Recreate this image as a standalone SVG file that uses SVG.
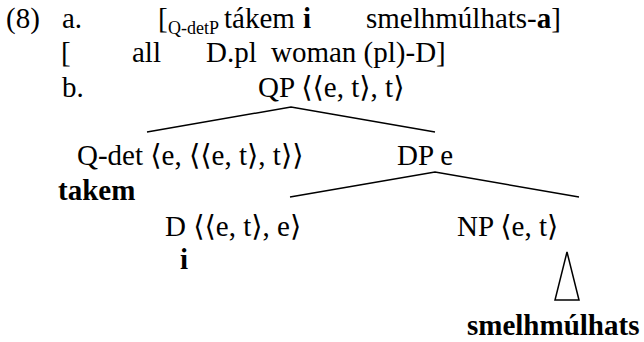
<svg xmlns="http://www.w3.org/2000/svg" width="644" height="342" viewBox="0 0 644 342">
<style>
text{font-family:"Liberation Serif","Times New Roman","DejaVu Serif",serif;font-size:29px;fill:#000}
.b{font-weight:bold}
.sub{font-size:18px}
.edge{stroke:#000;stroke-width:1.5;fill:none}
</style>
<rect width="644" height="342" fill="#fff"/>
<g id="example-a">
<text x="6" y="28">(8)</text>
<text x="62" y="28">a.</text>
<text x="158" y="28">[</text>
<text class="sub" x="168" y="34">Q-detP</text>
<text x="224" y="28">tákem</text>
<text class="b" x="303" y="28">i</text>
<text x="366" y="28">smelhmúlhats-<tspan class="b">a</tspan>]</text>
<text x="61" y="62">[</text>
<text x="132" y="62">all</text>
<text x="206" y="62">D.pl</text>
<text x="271" y="62">woman (pl)-D]</text>
<text x="62" y="97">b.</text>
</g>
<g id="connectors">
<polyline class="edge" points="147,132 291,107 435,132"/>
<polyline class="edge" points="290,197 435,172 579,197"/>
<polygon class="edge" points="567,252 555,300 579,300"/>
</g>
<g id="node-QP"><text x="258" y="97">QP ⟨⟨e, t⟩, t⟩</text></g>
<g id="node-Qdet"><text x="77" y="165">Q-det ⟨e, ⟨⟨e, t⟩, t⟩⟩</text><text class="b" x="58" y="200">takem</text></g>
<g id="node-DP"><text x="397" y="165">DP e</text></g>
<g id="node-D"><text x="165" y="236">D ⟨⟨e, t⟩, e⟩</text><text class="b" x="180" y="269">i</text></g>
<g id="node-NP"><text x="457" y="236">NP ⟨e, t⟩</text></g>
<g id="node-leaf"><text class="b" x="467" y="335">smelhmúlhats</text></g>
</svg>
